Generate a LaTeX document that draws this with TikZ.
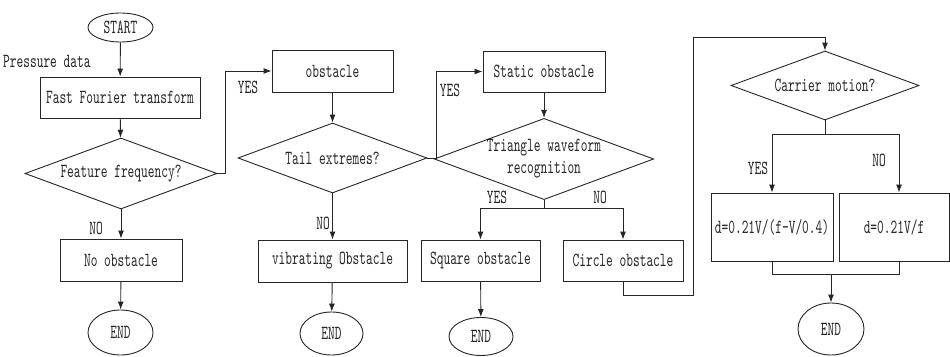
\documentclass[tikz,border=0pt]{standalone}
\usepackage{fontspec}
\newfontfamily\cnf[FakeStretch=0.64]{lmmono10-regular.otf}
\usetikzlibrary{shapes.geometric,arrows.meta}
\begin{document}
\begin{tikzpicture}[x=1pt,y=-1pt,
  every node/.style={font=\cnf\fontsize{20}{21}\selectfont, text=black!85},
  ln/.style={draw=black!85, line width=0.9pt},
  arr/.style={ln, -{Latex[length=8pt,width=6pt]}},
  proc/.style={rectangle, ln, inner sep=0pt, align=center},
  term/.style={ellipse, ln, inner sep=0pt},
  dec/.style={diamond, ln, inner sep=0pt, align=center, shape aspect=2.7},
  lbl/.style={inner sep=0pt}]
\useasboundingbox (0,0) rectangle (950,356);
% column 1
\node[term, minimum width=65, minimum height=29] (start) at (120.5,27.5) {START};
\node[lbl, anchor=west] (pd) at (3,61) {Pressure data};
\node[proc, minimum width=160, minimum height=41] (fft) at (120,97.5) {Fast Fourier transform};
\node[dec, minimum width=192, minimum height=71] (d1) at (121,173.5) {Feature frequency?};
\node[proc, minimum width=122, minimum height=42] (noobs) at (121,260) {No obstacle};
\node[term, minimum width=65, minimum height=45] (end1) at (120.5,332.5) {END};
% column 2
\node[proc, minimum width=121, minimum height=42] (obs) at (332.5,71) {obstacle};
\node[dec, minimum width=189, minimum height=70] (d2) at (332.5,158) {Tail extremes?};
\node[proc, minimum width=149, minimum height=42] (vib) at (332.5,261) {vibrating Obstacle};
\node[term, minimum width=63, minimum height=43] (end2) at (331.5,333.5) {END};
% column 3
\node[proc, minimum width=122, minimum height=41] (stat) at (544,71.5) {Static obstacle};
\node[dec, minimum width=188, minimum height=72] (d3) at (544,159) {Triangle waveform\\[1pt]recognition};
\node[proc, minimum width=119, minimum height=41] (sq) at (480.5,260.5) {Square obstacle};
\node[proc, minimum width=120, minimum height=41] (ci) at (623,260.5) {Circle obstacle};
\node[term, minimum width=64, minimum height=38] (end3) at (481,336.5) {END};
% column 4
\node[dec, minimum width=188, minimum height=69] (d4) at (825,85.5) {Carrier motion?};
\node[proc, minimum width=122, minimum height=68] (f1) at (772,227) {d=0.21V/(f-V/0.4)};
\node[proc, minimum width=110, minimum height=68] (f2) at (894,227) {d=0.21V/f};
\node[term, minimum width=66, minimum height=52] (end4) at (831,329) {END};
% labels
\node[lbl] (l1) at (96,228) {NO};
\node[lbl] (l2) at (248,87) {YES};
\node[lbl] (l3) at (323,223) {NO};
\node[lbl] (l4) at (450,90) {YES};
\node[lbl] (l5) at (497,197) {YES};
\node[lbl] (l6) at (600,197) {NO};
\node[lbl] (l7) at (758,168) {YES};
\node[lbl] (l8) at (879,160) {NO};
% connectors
\draw[arr] (start) -- (fft);
\draw[arr] (fft) -- (d1);
\draw[arr] (d1) -- (noobs);
\draw[arr] (noobs) -- (end1);
\draw[arr] (d1.east) -- ++(8,0) |- (obs.west);
\draw[arr] (obs) -- (d2);
\draw[arr] (d2) -- (vib);
\draw[arr] (vib) -- (end2);
\draw[arr] (d2.east) -- ++(9,0) |- (stat.west);
\draw[arr] (stat) -- (d3);
\coordinate (j3) at (544,208);
\draw[ln] (d3.south) -- (j3);
\draw[arr] (j3) -| (sq.north);
\draw[arr] (j3) -| (ci.north);
\draw[arr] (sq) -- (end3);
\coordinate (c1) at (693,37);
\draw[arr] (ci.south) -- ++(0,14) -| (c1) -| (d4.north);
\coordinate (j4) at (825,134);
\draw[ln] (d4.south) -- (j4);
\draw[arr] (j4) -| (f1.north);
\draw[arr] (j4) -| ([xshift=5pt]f2.north);
\draw[ln] (f1.south) -- ++(0,13) -| ([xshift=5pt]f2.south);
\coordinate (j5) at (831,274);
\draw[arr] (j5) -- (end4.north);
\end{tikzpicture}
\end{document}
